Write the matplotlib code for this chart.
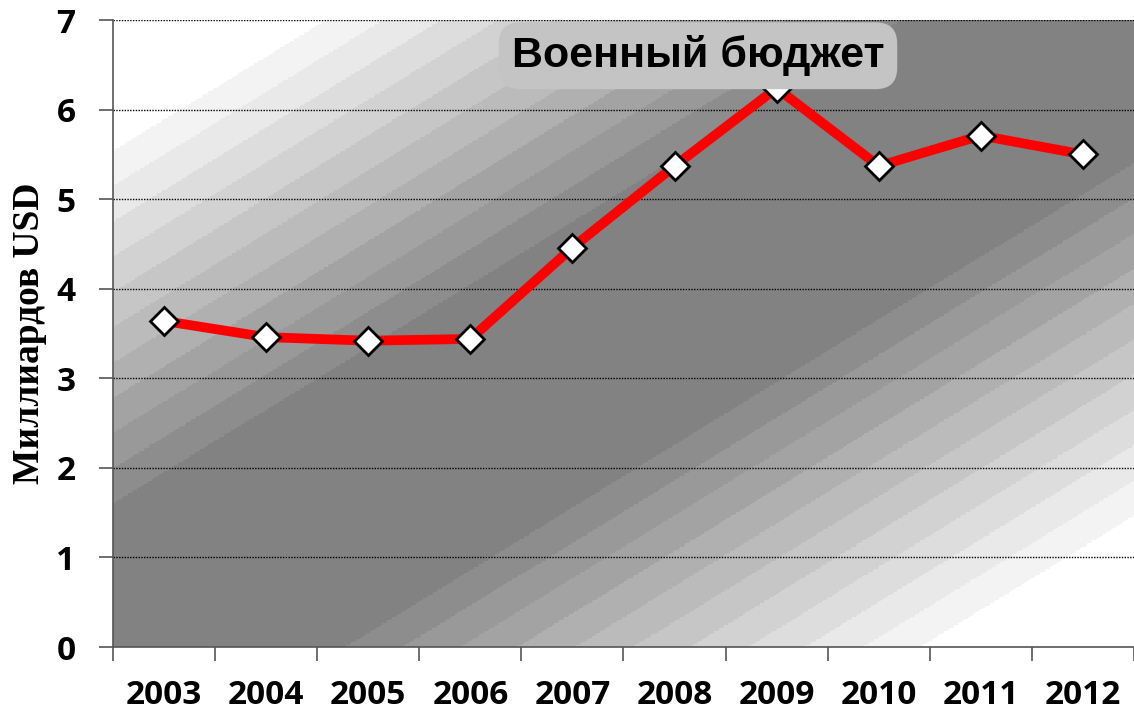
import numpy as np
import matplotlib
matplotlib.use("Agg")
import matplotlib.pyplot as plt

years = ["2003", "2004", "2005", "2006", "2007", "2008", "2009", "2010", "2011", "2012"]
budget = [3.64, 3.46, 3.42, 3.44, 4.46, 5.37, 6.24, 5.37, 5.71, 5.50]
y_ticks = [0, 1, 2, 3, 4, 5, 6, 7]
title = "Военный бюджет"
y_label = "Миллиардов USD"

fig = plt.figure(figsize=(11.34, 7.15), dpi=100)
ax = fig.add_axes([0.0996, 0.095, 0.9004, 0.877])

# diagonal banded grey background
u, v = np.meshgrid(np.linspace(0, 1, 600), np.linspace(0, 1, 400))
d = np.abs(v - u)
shade = np.clip((d - 0.2) / 0.62, 0, 1)
shade = np.round(shade * 11) / 11
grey = 0.51 + 0.49 * shade
ax.imshow(grey, cmap="gray", vmin=0, vmax=1, origin="lower", extent=(0, 1, 0, 1),
          transform=ax.transAxes, aspect="auto", interpolation="nearest", zorder=0)

x = np.arange(len(years))
ax.plot(x, budget, color="#ff0000", lw=7, zorder=3, solid_capstyle="butt",
        marker="D", markersize=14, markerfacecolor="white", markeredgecolor="black",
        markeredgewidth=2)

ax.set_xlim(-0.5, len(years) - 0.5)
ax.set_ylim(0, 7)
ax.set_yticks(y_ticks)
for t in y_ticks[1:]:
    ax.axhline(t, color="black", lw=1, ls=(0, (1, 1)), zorder=1)

ax.set_xticks(np.arange(-0.5, len(years), 1.0))
ax.set_xticklabels([])
ax.set_xticks(x, minor=True)
ax.set_xticklabels(years, minor=True)
ax.tick_params(axis="x", which="major", length=10, width=1.2, color="#555555", direction="out")
ax.tick_params(axis="x", which="minor", length=0, pad=23)
ax.tick_params(axis="y", length=10, width=1.2, color="#555555", pad=17)
for lab in ax.get_xticklabels(minor=True) + ax.get_yticklabels():
    lab.set_fontfamily("Open Sans")
    lab.set_fontweight("bold")
    lab.set_fontsize(24)

for s in ["top", "right"]:
    ax.spines[s].set_visible(False)
for s in ["left", "bottom"]:
    ax.spines[s].set_color("#555555")
    ax.spines[s].set_linewidth(1.2)

ax.set_ylabel(y_label, fontfamily="Liberation Serif", fontweight="bold", fontsize=27, labelpad=7)

ax.text(0.573, 0.943, title, transform=ax.transAxes, ha="center", va="center",
        fontfamily="Liberation Sans", fontweight="bold", fontsize=31, zorder=5,
        bbox=dict(boxstyle="round,pad=0.3,rounding_size=0.5", fc="#c4c4c4", ec="none"))

fig.savefig("out.png", dpi=100)
